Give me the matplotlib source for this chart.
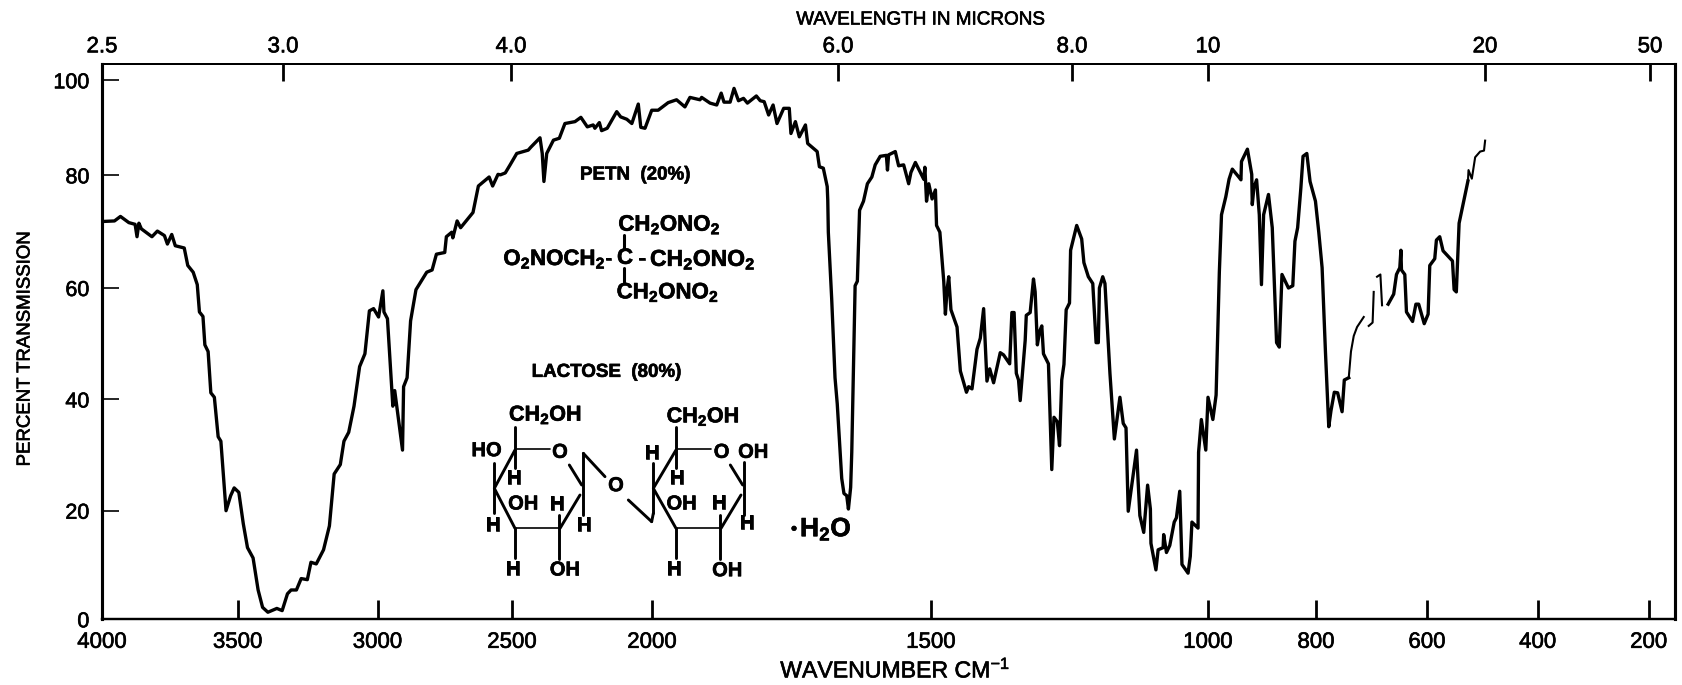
import matplotlib
matplotlib.use("Agg")
import matplotlib.patheffects as pe
import matplotlib.pyplot as plt
import numpy as np

plt.rcParams["font.family"] = ["Liberation Sans", "DejaVu Sans"]
plt.rcParams["mathtext.fontset"] = "custom"
plt.rcParams["mathtext.rm"] = "Liberation Sans"
plt.rcParams["mathtext.bf"] = "Liberation Sans:bold"
plt.rcParams["mathtext.default"] = "regular"

WIDTH, HEIGHT = 1682, 685
HEAVY = [pe.withStroke(linewidth=0.45, foreground="black")]

wavenumber_ticks = [4000, 3500, 3000, 2500, 2000, 1500, 1000, 800, 600, 400, 200]
micron_ticks = [2.5, 3.0, 4.0, 6.0, 8.0, 10, 20, 50]
micron_labels = ["2.5", "3.0", "4.0", "6.0", "8.0", "10", "20", "50"]
percent_ticks = [0, 20, 40, 60, 80, 100]

# the printed chart paper is not linear, these are where its ticks really sit
x_knots = np.array([153, 200, 400, 600, 800, 1000, 1500, 2000, 2500, 3000, 3500, 4000])
x_knot_px = np.array([1675, 1648.7, 1537.7, 1427, 1316, 1208, 931, 652, 512, 377.5, 237.7, 102])
um_knots = np.array([2.5, 3.0, 4.0, 6.0, 8.0, 10, 20, 50, 65])
um_knot_px = np.array([102, 283, 511, 838, 1072, 1208, 1485, 1650, 1675])
y_knots = np.array([0, 20, 40, 60, 80, 100, 103.4])
y_knot_px = np.array([0, 108.6, 219.8, 331.3, 444, 539, 555])

# trace, nan where the pen line breaks up
wavenumber = [
    4000, 3954, 3932, 3901, 3878, 3871, 3864, 3855, 3816, 3796, 3770, 3759, 3743, 3730, 3697,
    3684, 3664, 3649, 3641, 3628, 3621, 3609, 3599, 3586, 3572, 3562, 3543, 3526, 3513, 3496,
    3480, 3465, 3445, 3427, 3411, 3392, 3360, 3341, 3322, 3309, 3290, 3273, 3251, 3238, 3219,
    3193, 3172, 3155, 3133, 3120, 3103, 3084, 3064, 3045, 3029, 3014, 2996, 2980, 2976, 2963,
    2943, 2936, 2907, 2903, 2890, 2877, 2857, 2817, 2797, 2781, 2750, 2744, 2724, 2720, 2704,
    2691, 2645, 2625, 2585, 2572, 2552,
    2543, 2525, 2507, 2483, 2442, 2433, 2400, 2392, 2386, 2376, 2352, 2331, 2311, 2275, 2254,
    2231, 2210, 2204, 2188, 2180, 2160, 2126, 2112, 2090, 2072, 2049, 2040, 2025, 2001, 1989,
    1971, 1956, 1941, 1932, 1914, 1911, 1896, 1884, 1876, 1871, 1860, 1853, 1845, 1836, 1829,
    1813, 1806, 1799, 1791, 1783, 1776, 1764, 1754, 1751, 1743, 1736, 1725, 1721, 1704, 1700,
    1693, 1686, 1685,
    1684, 1678, 1672, 1668, 1660, 1656, 1651, 1648, 1644, 1642, 1636, 1632, 1628, 1621, 1614,
    1606, 1600, 1591, 1580, 1578, 1576, 1564, 1558, 1549, 1540, 1536, 1528, 1519, 1513, 1511,
    1508, 1504, 1498, 1492, 1490, 1484, 1477, 1474, 1471, 1468, 1464, 1453, 1447, 1436, 1432,
    1426, 1417, 1411, 1405, 1399, 1394, 1387, 1375, 1369, 1358, 1354, 1350, 1346, 1342, 1339,
    1330, 1328, 1321, 1315, 1312, 1308, 1304, 1300, 1297, 1288, 1282, 1278, 1272, 1268, 1264,
    1260, 1256, 1250, 1248, 1237, 1228, 1224, 1216, 1208, 1202, 1198, 1196, 1190, 1186, 1177,
    1169, 1159, 1153, 1148, 1144, 1129, 1123, 1116, 1109, 1104, 1103, 1094, 1090, 1081, 1080,
    1075, 1069, 1061, 1057, 1051, 1047, 1036, 1032, 1029, 1018, 1017, 1012, 1004, 1000, 991,
    985, 979, 975, 967, 961, 955, 943,
    939, 938, 927, 919, 918, 915, 910, 905, 901, 897, 888, 881, 873, 868, 863,
    851, 843, 839, 834, 828, 824, 817, 811, 801, 795, 789, 783, 777, 773, 767,
    761, 753, 749, 741, 737, 732, 726, 714, np.nan, 705, 698, 696, np.nan, 690, 684,
    681, 670, 660, 655, 649, 647, 646, 640, 637, 626, 620, 615, 605, 598, 595,
    586, 583, 577, 571, 554, 551, 547, 542, 526, 525, 519, 513, 504, 497, 495,
]
transmission = [
    71.8, 71.9, 72.7, 71.6, 71.3, 69.1, 71.5, 70.5, 69.1, 70.1, 69.3, 67.8, 69.5, 67.5, 67.1,
    64.0, 62.8, 60.6, 55.7, 54.9, 49.8, 48.6, 41.2, 40.4, 33.3, 32.5, 20.0, 22.7, 24.1, 23.3,
    17.6, 13.2, 11.3, 5.4, 2.2, 1.3, 2.0, 1.6, 4.7, 5.4, 5.4, 7.5, 7.3, 10.5, 10.2,
    12.8, 17.2, 26.6, 28.3, 32.5, 34.1, 38.8, 45.9, 48.2, 55.9, 56.3, 54.8, 59.5, 55.7, 54.5,
    38.8, 41.6, 30.9, 42.3, 43.9, 54.1, 59.7, 62.8, 63.2, 66.0, 66.3, 69.1, 69.9, 68.9, 71.9,
    70.7, 73.4, 78.1, 79.7, 78.1, 80.2,
    80.1, 80.5, 82.2, 84.6, 85.3, 85.9, 87.9, 84.6, 78.9, 84.6, 87.4, 87.8, 90.9, 91.3, 92.2,
    90.2, 90.6, 89.9, 91.1, 89.4, 89.9, 93.4, 92.3, 91.8, 90.9, 95.0, 90.1, 89.9, 93.7, 93.7,
    95.3, 95.9, 94.4, 96.4, 95.9, 96.4, 95.2, 94.8, 97.3, 95.4, 95.4, 98.3, 95.7, 96.2, 95.2,
    96.7, 95.7, 95.5, 92.7, 94.8, 90.9, 94.1, 94.1, 88.8, 91.3, 88.1, 90.6, 86.7, 85.0, 81.8,
    81.5, 78.0, 75.6,
    69.9, 58.1, 43.9, 39.2, 25.8, 23.1, 22.7, 20.3, 24.2, 30.5, 60.4, 61.2, 73.8, 75.4, 78.5,
    79.7, 82.2, 84.0, 84.2, 81.1, 84.3, 85.0, 82.0, 82.2, 78.5, 80.6, 82.7, 80.6, 79.3, 81.7,
    75.4, 78.5, 75.8, 77.4, 71.1, 69.9, 61.2, 55.3, 59.7, 62.0, 56.1, 53.0, 45.1, 41.3, 42.3,
    41.9, 49.0, 51.0, 56.3, 43.3, 45.5, 43.0, 48.4, 48.0, 46.4, 55.6, 55.6, 44.7, 43.5, 39.8,
    50.6, 55.1, 55.6, 61.6, 59.3, 49.8, 52.2, 53.2, 48.2, 46.4, 27.4, 36.8, 36.0, 31.7, 43.5,
    46.3, 56.1, 57.3, 66.7, 71.1, 68.7, 64.5, 62.0, 60.8, 50.2, 50.2, 60.0, 62.0, 60.8, 44.7,
    32.9, 40.4, 35.7, 34.9, 19.9, 30.9, 19.1, 16.0, 24.6, 20.3, 14.0, 9.1, 12.8, 13.2, 15.6,
    12.3, 13.6, 17.9, 18.7, 23.5, 10.1, 8.5, 11.6, 17.9, 16.8, 30.5, 36.4, 30.9, 40.4, 36.4,
    40.8, 62.8, 73.0, 76.2, 79.3, 81.3, 79.7,
    79.2, 82.9, 85.5, 80.2, 74.8, 77.8, 79.2, 73.0, 60.6, 73.0, 76.6, 70.7, 50.2, 49.4, 62.4,
    60.0, 60.4, 68.3, 70.7, 77.8, 84.0, 84.6, 78.9, 75.4, 69.9, 63.6, 48.6, 35.1, 38.0, 41.3,
    41.2, 37.8, 43.5, 43.9, 48.6, 51.4, 53.0, 54.8, np.nan, 53.2, 53.8, 59.3, np.nan, 62.0, 62.4,
    56.9, 57.1, 58.9, 62.4, 63.6, 66.7, 63.2, 62.4, 55.7, 54.0, 57.1, 57.1, 53.6, 55.3, 64.0,
    65.2, 68.5, 69.1, 66.6, 64.8, 59.7, 59.3, 71.5, 79.0, 81.1, 79.4, 83.8, 85.0, 85.2, 87.3,
]


def x_forward(v):
    # negated so the transform rises with v, the axis itself is inverted by its limits
    return -np.interp(v, x_knots, x_knot_px)


def x_inverse(p):
    return np.interp(-p, x_knot_px[::-1], x_knots[::-1])


def um_forward(v):
    return np.interp(v, um_knots, um_knot_px)


def um_inverse(p):
    return np.interp(p, um_knot_px, um_knots)


def y_forward(v):
    return np.interp(v, y_knots, y_knot_px)


def y_inverse(p):
    return np.interp(p, y_knot_px, y_knots)


def zoomed(x, y):
    # structure drawing was measured on a 3x crop starting at (440, 140)
    return 440 + x / 3, 140 + y / 3


def bond(ov, x0, y0, x1, y1, lw=2.1):
    a, b = zoomed(x0, y0)
    c, d = zoomed(x1, y1)
    ov.plot([a, c], [b, d], color="black", lw=lw, solid_capstyle="round")


def label(ov, x, y, s, size=14, ha="center"):
    a, b = zoomed(x, y)
    ov.text(a, b, s, fontsize=size, fontweight="bold", ha=ha, va="center", color="black", path_effects=HEAVY)


def draw_ring(ov, dx, edge_x=163, top_y=965):
    # dx shifts the same sugar ring across for the second unit
    for x0, y0, x1, y1, lw in [
        (232 + dx, 928, 330 + dx, 928, 1.2),
        (388 + dx, 975, 425 + dx, 1035, 2.1),
        (420 + dx, 1065, 360 + dx, 1165, 2.1),
        (360 + dx, 1165, 225 + dx, 1165, 1.2),
        (225 + dx, 1165, edge_x, 1045, 2.1),
        (edge_x, 1045, 225 + dx, 930, 2.1),
        (225 + dx, 860, 225 + dx, 985, 2.1),
        (edge_x, 970, edge_x, 1120, 2.1),
        (225 + dx, 1165, 225 + dx, 1255, 2.1),
        (358 + dx, 1125, 358 + dx, 1258, 2.1),
        (430 + dx, top_y, 430 + dx, 1125, 2.1),
    ]:
        bond(ov, x0, y0, x1, y1, lw)


def main():
    if len(wavenumber) != len(transmission):
        raise ValueError(f"{len(wavenumber)} != {len(transmission)}")

    fig = plt.figure(figsize=(WIDTH / 100, HEIGHT / 100), dpi=100, facecolor="white")
    ax = fig.add_axes([102 / WIDTH, (HEIGHT - 619.3) / HEIGHT, (1675 - 102) / WIDTH, (619.3 - 64.3) / HEIGHT])

    ax.set_xscale("function", functions=(x_forward, x_inverse))
    ax.set_yscale("function", functions=(y_forward, y_inverse))
    ax.set_xlim(4000, 153)
    ax.set_ylim(0, 103.4)

    # pen pressure drops at the far end of the scan, so those stretches go on thinner
    w = np.array(wavenumber)
    t = np.array(transmission)
    faint = ((w <= 741) & (w >= 681)) | (w <= 526)
    ax.plot(w, np.where(faint & (w < 741) & (w != 526), np.nan, t), color="black", lw=2.4, solid_joinstyle="round")
    ax.plot(w, np.where(faint, t, np.nan), color="black", lw=1.5, solid_joinstyle="round")

    ax.set_xticks(wavenumber_ticks)
    ax.set_xticklabels([str(n) for n in wavenumber_ticks])
    ax.set_yticks(percent_ticks)
    ax.set_yticklabels([str(p) for p in percent_ticks])
    ax.minorticks_off()
    ax.tick_params(axis="x", direction="in", length=13.5, width=2.0, pad=9, labelsize=16)
    ax.tick_params(axis="y", direction="in", length=12.5, width=1.2, pad=9, labelsize=15.5)

    top = ax.twiny()
    top.set_xscale("function", functions=(um_forward, um_inverse))
    top.set_xlim(2.5, 65)
    top.set_xticks(micron_ticks)
    top.set_xticklabels(micron_labels)
    top.minorticks_off()
    top.tick_params(axis="x", direction="in", length=12, width=2.0, pad=5, labelsize=16)

    for a in (ax, top):
        a.spines["left"].set_linewidth(2.2)
        a.spines["right"].set_linewidth(2.2)
        a.spines["bottom"].set_linewidth(1.6)
        a.spines["top"].set_linewidth(1.4)
        for tick_label in a.get_xticklabels() + a.get_yticklabels():
            tick_label.set_path_effects(HEAVY)

    # overlay in image pixels for the captions and the chemical drawing
    ov = fig.add_axes([0, 0, 1, 1], facecolor="none")
    ov.set_xlim(0, WIDTH)
    ov.set_ylim(HEIGHT, 0)
    ov.axis("off")

    ov.text(920, 20, "WAVELENGTH IN MICRONS", fontsize=13.6, ha="center", va="center", path_effects=HEAVY)
    ov.text(895, 670, "WAVENUMBER CM$^{-1}$", fontsize=16.6, ha="center", va="center", path_effects=HEAVY)
    ov.text(25, 349, "PERCENT TRANSMISSION", fontsize=13.4, rotation=90, ha="center", va="center", path_effects=HEAVY)

    label(ov, 420, 105, "PETN  (20%)", size=13.5, ha="left")
    label(ov, 275, 697, "LACTOSE  (80%)", size=13.5, ha="left")

    label(ov, 535, 255, r"$\mathbf{CH_2ONO_2}$", size=16, ha="left")
    label(ov, 190, 358, r"$\mathbf{O_2NOCH_2}$", size=16, ha="left")
    label(ov, 505, 358, "-", size=16)
    label(ov, 555, 355, "C", size=16)
    label(ov, 606, 358, "-", size=16)
    label(ov, 630, 358, r"$\mathbf{CH_2ONO_2}$", size=16.5, ha="left")
    label(ov, 530, 458, r"$\mathbf{CH_2ONO_2}$", size=16, ha="left")
    bond(ov, 553, 285, 553, 325, 2.2)
    bond(ov, 553, 385, 553, 425, 2.2)

    draw_ring(ov, 0, top_y=940)
    draw_ring(ov, 483, edge_x=640)
    bond(ov, 430, 940, 495, 1010)
    bond(ov, 565, 1080, 635, 1145)
    bond(ov, 640, 1120, 635, 1145)

    for x, y, s in [
        (140, 932, "HO"), (360, 937, "O"), (223, 1015, "H"), (250, 1092, "OH"), (350, 1093, "H"),
        (160, 1155, "H"), (432, 1157, "H"), (220, 1287, "H"), (375, 1290, "OH"), (528, 1037, "O"),
        (637, 940, "H"), (845, 937, "O"), (940, 937, "OH"), (712, 1015, "H"), (725, 1092, "OH"),
        (838, 1090, "H"), (920, 1150, "H"), (703, 1287, "H"), (862, 1292, "OH"),
    ]:
        label(ov, x, y, s, size=14.5)
    label(ov, 207, 825, r"$\mathbf{CH_2OH}$", size=15.5, ha="left")
    label(ov, 680, 830, r"$\mathbf{CH_2OH}$", size=15.5, ha="left")
    label(ov, 1062, 1168, "•", size=12)
    label(ov, 1080, 1168, r"$\mathbf{H_2O}$", size=19, ha="left")

    fig.savefig("out.png", dpi=100)


if __name__ == "__main__":
    main()
